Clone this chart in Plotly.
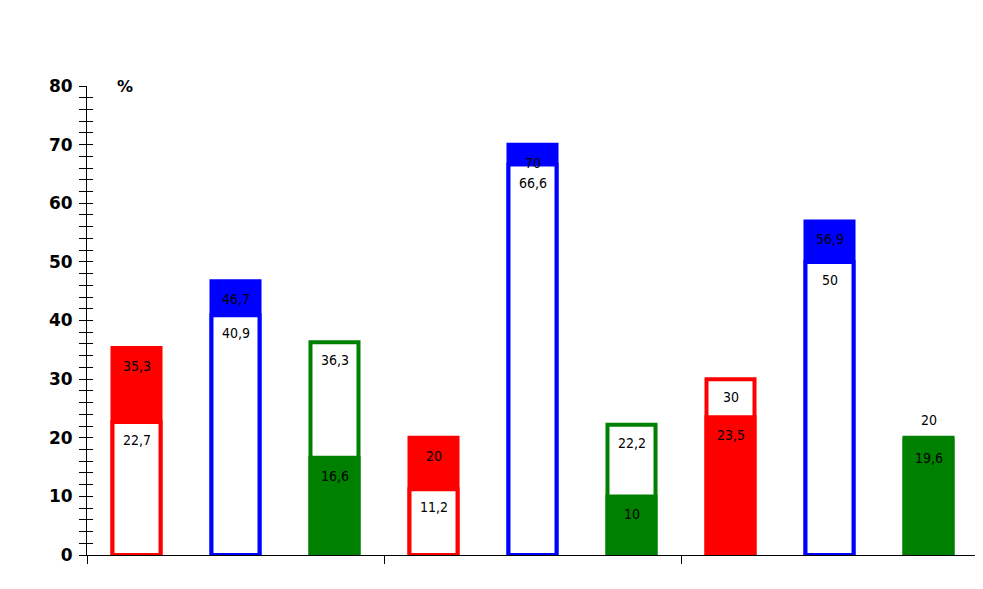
import plotly.graph_objects as go

categories = list(range(9))
filled_values = [35.3, 46.7, 16.6, 20.0, 70.0, 10.0, 23.5, 56.9, 19.6]
outlined_values = [22.7, 40.9, 36.3, 11.2, 66.6, 22.2, 30.0, 50.0, 20.0]
bar_colors = ["#ff0000", "#0000ff", "#008000"] * 3
filled_labels = ["35,3", "46,7", "16,6", "20", "70", "10", "23,5", "56,9", "19,6"]
outlined_labels = ["22,7", "40,9", "36,3", "11,2", "66,6", "22,2", "30", "50", "20"]
outside_label = [False, False, False, False, False, False, False, False, True]
y_ticks = [0, 10, 20, 30, 40, 50, 60, 70, 80]
group_bounds = [-0.5, 2.5, 5.5, 8.5]

# back = larger value drawn first, front = smaller drawn on top
back_y, back_fill, front_y, front_fill = [], [], [], []
for f, o, c in zip(filled_values, outlined_values, bar_colors):
    if f >= o:
        back_y.append(f); back_fill.append(c)
        front_y.append(o); front_fill.append("white")
    else:
        back_y.append(o); back_fill.append("white")
        front_y.append(f); front_fill.append(c)

W = 0.485
fig = go.Figure()
fig.add_trace(go.Bar(x=categories, y=back_y, width=W,
                     marker=dict(color=back_fill, line=dict(color=bar_colors, width=4)),
                     hoverinfo="skip"))
fig.add_trace(go.Bar(x=categories, y=front_y, width=W,
                     marker=dict(color=front_fill, line=dict(color=bar_colors, width=4)),
                     hoverinfo="skip"))
# invisible trace to keep y2 axis
fig.add_trace(go.Scatter(x=[0], y=[0], yaxis="y2", mode="markers",
                         marker=dict(opacity=0), hoverinfo="skip"))

label_font = dict(family="DejaVu Sans Condensed", size=14, color="black")
for i in categories:
    for val, lab in ((filled_values[i], filled_labels[i]), (outlined_values[i], outlined_labels[i])):
        is_out = outside_label[i] and lab == outlined_labels[i]
        fig.add_annotation(x=i, y=val, text=lab, showarrow=False, font=label_font,
                           yshift=(18 if is_out else -18), xref="x", yref="y")

fig.add_annotation(x=0.043, y=1.0, xref="paper", yref="paper", text="<b>%</b>",
                   showarrow=False, font=dict(family="DejaVu Sans", size=16, color="black"),
                   xanchor="center", yanchor="middle")

fig.update_layout(
    width=975, height=581,
    margin=dict(l=79, r=5, t=78, b=34),
    barmode="overlay", showlegend=False,
    plot_bgcolor="white", paper_bgcolor="white",
    xaxis=dict(range=[-0.5, 8.5], tickvals=group_bounds, ticktext=["", "", "", ""],
               ticks="outside", ticklen=8, tickcolor="black", showgrid=False,
               zeroline=False, showline=True, linecolor="black", linewidth=1),
    yaxis=dict(range=[0, 80], tickvals=y_ticks,
               ticktext=["<b>%d</b>" % v for v in y_ticks],
               ticks="outside", ticklen=7,
               tickcolor="black", showgrid=False, zeroline=False, showline=True,
               linecolor="black", linewidth=1, ticklabelstandoff=3,
               tickfont=dict(family="DejaVu Sans", size=17, color="black"),
               minor=dict(dtick=2, ticks="outside", ticklen=7, tickcolor="black")),
    yaxis2=dict(range=[0, 80], overlaying="y", side="left", tickvals=y_ticks,
                ticks="inside", ticklen=6, tickcolor="black", showticklabels=False,
                showgrid=False, zeroline=False, showline=False,
                minor=dict(dtick=2, ticks="inside", ticklen=6, tickcolor="black")),
)

fig.write_html("out.html")
